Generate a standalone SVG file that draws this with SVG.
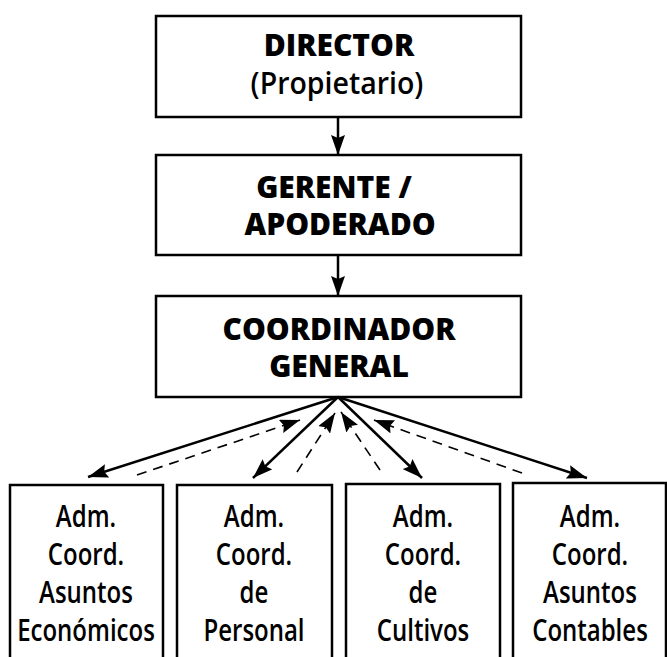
<svg xmlns="http://www.w3.org/2000/svg" width="667" height="657" viewBox="0 0 667 657">
<style>
.box{fill:#fff;stroke:#000;stroke-width:2.5}
.t{font-family:"Open Sans","Noto Sans","Liberation Sans",sans-serif;fill:#000;text-anchor:middle}
.h{font-size:30px;font-weight:800}
.p{font-size:30px;font-weight:600}
.s{font-size:30px;font-weight:600}
.solid{stroke:#000;stroke-width:2.5;fill:none}
.dash{stroke:#000;stroke-width:1.6;fill:none;stroke-dasharray:10 7}
</style>
<defs>
<marker id="ah" markerUnits="userSpaceOnUse" markerWidth="21" markerHeight="14" refX="20" refY="7" orient="auto">
<path d="M0,0 L20,7 L0,14 L3,7 z" fill="#000"/>
</marker>
</defs>
<rect width="667" height="657" fill="#fff"/>
<g id="director">
<rect class="box" x="156" y="16" width="365" height="101"/>
<text class="t h" x="339" y="56">DIRECTOR</text>
<text class="t p" transform="translate(337,94) scale(0.95,1)">(Propietario)</text>
</g>
<g id="gerente">
<rect class="box" x="156" y="155" width="365" height="100"/>
<text class="t h" x="334" y="198">GERENTE /</text>
<text class="t h" x="340" y="235">APODERADO</text>
</g>
<g id="coordinador">
<rect class="box" x="156" y="296" width="365" height="101"/>
<text class="t h" x="339" y="340">COORDINADOR</text>
<text class="t h" x="339" y="377">GENERAL</text>
</g>
<g id="economicos">
<rect class="box" x="10" y="485" width="153" height="190"/>
<text class="t s" transform="translate(86,527) scale(0.8,1)">Adm.</text>
<text class="t s" transform="translate(86,565) scale(0.8,1)">Coord.</text>
<text class="t s" transform="translate(86,603) scale(0.8,1)">Asuntos</text>
<text class="t s" transform="translate(86,641) scale(0.8,1)">Económicos</text>
</g>
<g id="personal">
<rect class="box" x="177" y="485" width="155" height="190"/>
<text class="t s" transform="translate(254,527) scale(0.8,1)">Adm.</text>
<text class="t s" transform="translate(254,565) scale(0.8,1)">Coord.</text>
<text class="t s" transform="translate(254,603) scale(0.8,1)">de</text>
<text class="t s" transform="translate(254,641) scale(0.8,1)">Personal</text>
</g>
<g id="cultivos">
<rect class="box" x="346" y="484" width="154" height="190"/>
<text class="t s" transform="translate(423,527) scale(0.8,1)">Adm.</text>
<text class="t s" transform="translate(423,565) scale(0.8,1)">Coord.</text>
<text class="t s" transform="translate(423,603) scale(0.8,1)">de</text>
<text class="t s" transform="translate(423,641) scale(0.8,1)">Cultivos</text>
</g>
<g id="contables">
<rect class="box" x="513" y="483" width="153" height="190"/>
<text class="t s" transform="translate(590,527) scale(0.8,1)">Adm.</text>
<text class="t s" transform="translate(590,565) scale(0.8,1)">Coord.</text>
<text class="t s" transform="translate(590,603) scale(0.8,1)">Asuntos</text>
<text class="t s" transform="translate(590,641) scale(0.8,1)">Contables</text>
</g>
<g id="connectors">
<line class="solid" x1="338" y1="117" x2="338" y2="155" marker-end="url(#ah)"/>
<line class="solid" x1="338" y1="255" x2="338" y2="296" marker-end="url(#ah)"/>
<line class="solid" x1="338" y1="397" x2="88" y2="477" marker-end="url(#ah)"/>
<line class="solid" x1="338" y1="397" x2="253" y2="478" marker-end="url(#ah)"/>
<line class="solid" x1="338" y1="397" x2="422" y2="478" marker-end="url(#ah)"/>
<line class="solid" x1="338" y1="397" x2="587" y2="478" marker-end="url(#ah)"/>
<line class="dash" x1="137" y1="475" x2="300" y2="420" marker-end="url(#ah)"/>
<line class="dash" x1="297" y1="472" x2="335" y2="413" marker-end="url(#ah)"/>
<line class="dash" x1="380" y1="470" x2="341" y2="412" marker-end="url(#ah)"/>
<line class="dash" x1="522" y1="473" x2="374" y2="420" marker-end="url(#ah)"/>
</g>
</svg>
